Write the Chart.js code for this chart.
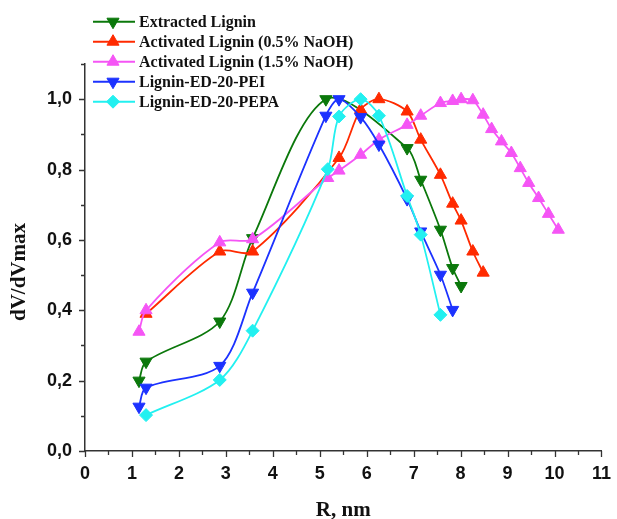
<!DOCTYPE html>
<html>
<head>
<meta charset="utf-8">
<script src="https://cdn.jsdelivr.net/npm/chart.js@4.4.1/dist/chart.umd.min.js"></script>
<style>
  html, body { margin: 0; padding: 0; background: #fff; }
  #chart { display: block; }
</style>
</head>
<body>
<canvas id="chart" width="617" height="519"></canvas>
<script>
// pore radius R (nm) and normalised dV/dVmax for each sample
const rExtracted = [1.15, 1.30, 2.87, 3.57, 5.13, 6.86, 7.15, 7.57, 7.83, 8.01];
const vExtracted = [0.20, 0.254, 0.368, 0.605, 1.0, 0.861, 0.771, 0.629, 0.52, 0.469];

const rAct05 = [1.30, 2.87, 3.57, 5.41, 5.87, 6.26, 6.86, 7.15, 7.57, 7.83, 8.01, 8.26, 8.48];
const vAct05 = [0.39, 0.567, 0.567, 0.833, 0.97, 1.0, 0.965, 0.885, 0.785, 0.703, 0.655, 0.567, 0.507];

const rAct15 = [1.15, 1.30, 2.87, 3.57, 5.17, 5.41, 5.87, 6.26, 6.86, 7.15, 7.57, 7.83, 8.01, 8.26, 8.48, 8.66, 8.87, 9.08, 9.27, 9.45, 9.66, 9.87, 10.08];
const vAct15 = [0.339, 0.40, 0.593, 0.602, 0.776, 0.797, 0.842, 0.885, 0.927, 0.953, 0.989, 0.995, 1.0, 0.997, 0.956, 0.915, 0.88, 0.847, 0.804, 0.762, 0.719, 0.674, 0.629];

const rPEI = [1.15, 1.30, 2.87, 3.57, 5.13, 5.41, 5.87, 6.26, 6.86, 7.15, 7.57, 7.83];
const vPEI = [0.126, 0.18, 0.242, 0.45, 0.953, 1.0, 0.949, 0.871, 0.716, 0.624, 0.501, 0.401];

const rPEPA = [1.30, 2.87, 3.57, 5.17, 5.41, 5.87, 6.26, 6.86, 7.15, 7.57];
const vPEPA = [0.102, 0.202, 0.342, 0.801, 0.951, 1.0, 0.953, 0.725, 0.615, 0.387];

const seriesNames = [
  'Extracted Lignin',
  'Activated Lignin (0.5% NaOH)',
  'Activated Lignin (1.5% NaOH)',
  'Lignin-ED-20-PEI',
  'Lignin-ED-20-PEPA'
];

const xTicks = [0, 1, 2, 3, 4, 5, 6, 7, 8, 9, 10, 11];
const yTicks = [0, 0.2, 0.4, 0.6, 0.8, 1.0];

const toPoints = (xs, ys) => xs.map((x, i) => ({ x: x, y: ys[i] }));

const styles = [
  { color: '#0b780b', pointStyle: 'triangle', rotation: 180, radius: 7 },
  { color: '#ff2a00', pointStyle: 'triangle', rotation: 0, radius: 7 },
  { color: '#f555f5', pointStyle: 'triangle', rotation: 0, radius: 7 },
  { color: '#1c32ff', pointStyle: 'triangle', rotation: 180, radius: 7 },
  { color: '#22f0f0', pointStyle: 'rectRot', rotation: 0, radius: 6.5 }
];

const seriesData = [
  toPoints(rExtracted, vExtracted),
  toPoints(rAct05, vAct05),
  toPoints(rAct15, vAct15),
  toPoints(rPEI, vPEI),
  toPoints(rPEPA, vPEPA)
];

const datasets = seriesData.map((pts, i) => ({
  label: seriesNames[i],
  data: pts,
  borderColor: styles[i].color,
  backgroundColor: styles[i].color,
  pointBackgroundColor: styles[i].color,
  pointBorderColor: styles[i].color,
  pointStyle: styles[i].pointStyle,
  rotation: styles[i].rotation,
  pointRadius: styles[i].radius,
  pointBorderWidth: 1,
  borderWidth: 1.8,
  tension: 0.3,
  order: seriesData.length - i   // later series drawn on top
}));

const serif = "'Liberation Serif', 'Times New Roman', serif";
const sans = "'Liberation Sans', Arial, sans-serif";

// minor/major tick marks, legend block and the y title
const decorations = {
  id: 'decorations',
  afterDraw(chart) {
    const ctx = chart.ctx;
    const xs = chart.scales.x, ys = chart.scales.y;
    const area = chart.chartArea;
    ctx.save();
    ctx.strokeStyle = '#333';
    ctx.lineWidth = 1.3;
    ctx.beginPath();
    for (let k = 0; k <= 22; k++) {
      const px = Math.round(xs.getPixelForValue(k * 0.5)) + 0.5;
      const len = k % 2 === 0 ? 6 : 4;
      ctx.moveTo(px, area.bottom);
      ctx.lineTo(px, area.bottom + len);
    }
    for (let k = 0; k <= 11; k++) {
      const py = Math.round(ys.getPixelForValue(k * 0.1)) + 0.5;
      const len = k % 2 === 0 ? 6 : 4;
      ctx.moveTo(area.left, py);
      ctx.lineTo(area.left - len, py);
    }
    ctx.stroke();

    // legend
    ctx.font = 'bold 16px ' + serif;
    ctx.textBaseline = 'middle';
    ctx.textAlign = 'left';
    chart.data.datasets.forEach((ds, i) => {
      const y = 21.7 + i * 20;
      ctx.strokeStyle = ds.borderColor;
      ctx.lineWidth = 2;
      ctx.beginPath();
      ctx.moveTo(93, y);
      ctx.lineTo(135, y);
      ctx.stroke();
      ctx.fillStyle = ds.borderColor;
      ctx.strokeStyle = ds.borderColor;
      ctx.lineWidth = 1;
      Chart.helpers.drawPoint(ctx, {
        pointStyle: ds.pointStyle,
        rotation: ds.rotation,
        radius: ds.pointRadius,
        borderWidth: 1
      }, 113, y);
      ctx.fillStyle = '#111';
      ctx.fillText(ds.label, 139, y + 1);
    });

    // y axis title
    ctx.translate(20, 272);
    ctx.rotate(-Math.PI / 2);
    ctx.textAlign = 'center';
    ctx.font = 'bold 21px ' + serif;
    ctx.fillStyle = '#111';
    ctx.fillText('dV/dVmax', 0, 0);
    ctx.restore();
  }
};

new Chart(document.getElementById('chart'), {
  type: 'line',
  data: { datasets: datasets },
  options: {
    responsive: false,
    animation: false,
    events: [],
    layout: { padding: { top: 64, right: 14, left: 0, bottom: 0 } },
    plugins: {
      legend: { display: false },
      tooltip: { enabled: false }
    },
    scales: {
      x: {
        type: 'linear',
        min: 0,
        max: 11,
        afterFit: (scale) => { scale.height = 68; },
        afterBuildTicks: (scale) => { scale.ticks = xTicks.map(v => ({ value: v })); },
        grid: { display: false, drawTicks: true, tickLength: 6 },
        border: { display: true, color: '#333', width: 1.5 },
        ticks: {
          padding: 6,
          color: '#111',
          font: { family: sans, size: 18, weight: 'bold' },
          callback: (v) => String(v)
        },
        title: {
          display: true,
          text: 'R, nm',
          color: '#111',
          font: { family: serif, size: 21, weight: 'bold', lineHeight: 1 },
          padding: { top: 0, bottom: -2 }
        }
      },
      y: {
        type: 'linear',
        min: 0,
        max: 1.1,
        afterFit: (scale) => { scale.width = 85; },
        afterBuildTicks: (scale) => { scale.ticks = yTicks.map(v => ({ value: v })); },
        grid: { display: false, drawTicks: true, tickLength: 6 },
        border: { display: true, color: '#333', width: 1.5 },
        ticks: {
          padding: 7,
          color: '#111',
          font: { family: sans, size: 18, weight: 'bold' },
          callback: (v) => v.toFixed(1).replace('.', ',')
        }
      }
    }
  },
  plugins: [decorations]
});
</script>
</body>
</html>
